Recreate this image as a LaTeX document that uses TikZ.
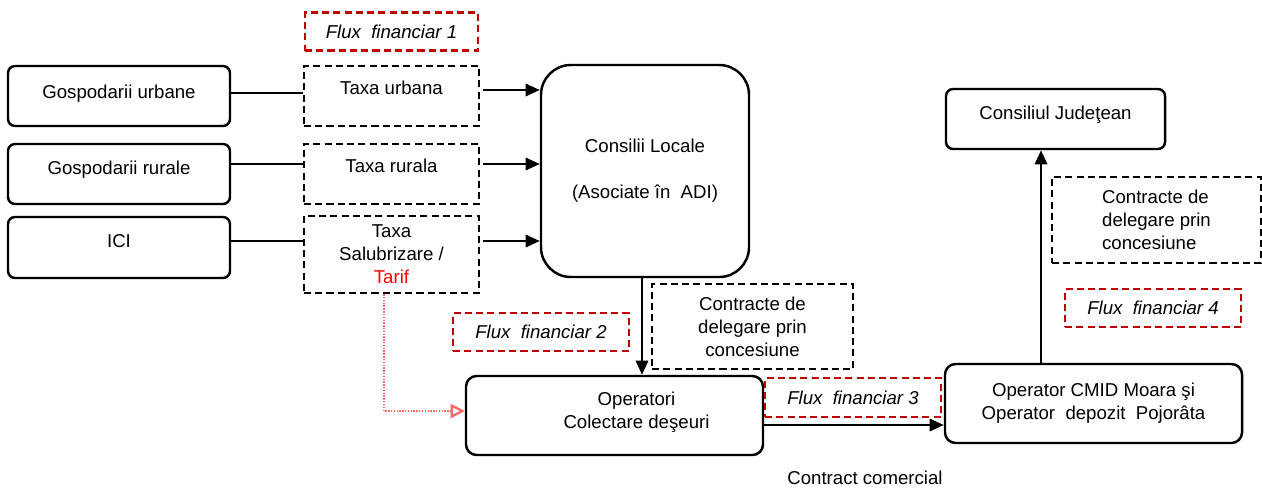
\documentclass[tikz,border=0pt]{standalone}
\usepackage{fontspec}
\setmainfont{Liberation Sans}
\usepackage{xcolor}
\usetikzlibrary{positioning,arrows.meta}
\definecolor{fluxred}{RGB}{192,0,0}

\begin{document}
\begin{tikzpicture}[>={Triangle[length=8pt,width=7pt]}, font=\fontsize{10.6}{13}\selectfont]
    \tikzstyle{block}=[rectangle, draw, line width=1.4pt, rounded corners=4pt, align=center]
    \tikzstyle{dbox}=[rectangle, draw, line width=1.4pt, dash pattern=on 4pt off 2.4pt, align=center]
    \tikzstyle{flux}=[dbox, draw=fluxred, font=\fontsize{10.6}{13}\selectfont\itshape, minimum width=3.52cm, minimum height=0.76cm]
    \tikzstyle{link}=[line width=1.3pt]

    \useasboundingbox (0,0) rectangle (25.24,-9.78);

    % surse
    \node[block, minimum width=4.44cm, minimum height=1.2cm, text depth=5pt] (gu) at (2.38,-1.92) {Gospodarii urbane};
    \node[block, minimum width=4.44cm, minimum height=1.2cm, text depth=7pt] (gr) at (2.38,-3.48) {Gospodarii rurale};
    \node[block, minimum width=4.44cm, minimum height=1.22cm, text depth=7pt] (ici) at (2.38,-4.95) {ICI};

    % taxe
    \node[dbox, minimum width=3.5cm, minimum height=1.2cm, text depth=9pt] (tu) at (7.83,-1.92) {Taxa urbana};
    \node[dbox, minimum width=3.5cm, minimum height=1.2cm, text depth=9pt] (tr) at (7.83,-3.48) {Taxa rurala};
    \node[dbox, minimum width=3.5cm, minimum height=1.54cm] (ts) at (7.83,-5.09) {Taxa\\Salubrizare /\\\textcolor{red}{Tarif}};
    \node[flux, minimum width=3.46cm, above=0.26cm of tu] (fx1) {Flux\ \ financiar 1};

    \node[block, rounded corners=17pt, minimum width=4.16cm, minimum height=4.24cm] (cl) at (12.9,-3.42) {Consilii Locale\\[0.46cm](Asociate în\ \ ADI)};

    % operatori
    \node[block, rounded corners=6pt, minimum width=5.94cm, minimum height=1.58cm,
          label={[align=center, xshift=0.44cm, yshift=0.07cm]center:Operatori\\Colectare deşeuri}] (op) at (12.29,-8.31) {};
    \node[block, rounded corners=6pt, minimum width=5.94cm, minimum height=1.58cm] (cmid) at (21.87,-8.07) {Operator CMID Moara şi\\Operator\ \ depozit\ \ Pojorâta};
    \node[block, minimum width=4.38cm, minimum height=1.2cm, text depth=7pt] (cj) at (21.11,-2.38) {Consiliul Judeţean};

    \node[flux] (fx2) at (10.82,-6.64) {Flux\ \ financiar 2};
    \node[dbox, minimum width=4.02cm, minimum height=1.7cm] (cd1) at (15.05,-6.53) {Contracte de\\delegare prin\\concesiune};
    \node[flux, minimum height=0.78cm] (fx3) at (17.06,-7.95) {Flux\ \ financiar 3};
    \node[dbox, minimum width=4.18cm, minimum height=1.72cm, align=left] (cd2) at (23.13,-4.4) {Contracte de\\delegare prin\\concesiune};
    \node[flux] (fx4) at (23.06,-6.16) {Flux\ \ financiar 4};
    \node (cc) at (17.3,-9.56) {Contract comercial};

    \draw[link] ([yshift=0.06cm]gu.east) -- ([yshift=0.06cm]tu.west);
    \draw[link] ([yshift=0.2cm]gr.east) -- ([yshift=0.2cm]tr.west);
    \draw[link] ([yshift=0.13cm]ici.east) -- ([yshift=0.27cm]ts.west);

    \draw[link, ->] ([xshift=0.06cm, yshift=0.12cm]tu.east) -- ([yshift=0.12cm]tu.east -| cl.west);
    \draw[link, ->] ([xshift=0.06cm, yshift=0.2cm]tr.east) -- ([yshift=0.2cm]tr.east -| cl.west);
    \draw[link, ->] ([xshift=0.06cm, yshift=0.27cm]ts.east) -- ([yshift=0.27cm]ts.east -| cl.west);

    \draw[red!60, line width=1.3pt, dash pattern=on 0.8pt off 0.8pt, -{Triangle[open, length=8pt, width=8pt]}]
        ([xshift=-0.15cm]ts.south) |- ([yshift=0.09cm]op.west);

    \draw[link, ->] ([xshift=-0.06cm]cl.south) -- ([xshift=-0.06cm]cl.south |- op.north);
    \draw[link, ->] ([yshift=-0.19cm]op.east) -- ([yshift=-0.19cm]op.east -| cmid.west);
    \draw[link, ->] ([xshift=-1.05cm]cmid.north) -- ([xshift=-1.05cm]cmid.north |- cj.south);
\end{tikzpicture}
\end{document}
